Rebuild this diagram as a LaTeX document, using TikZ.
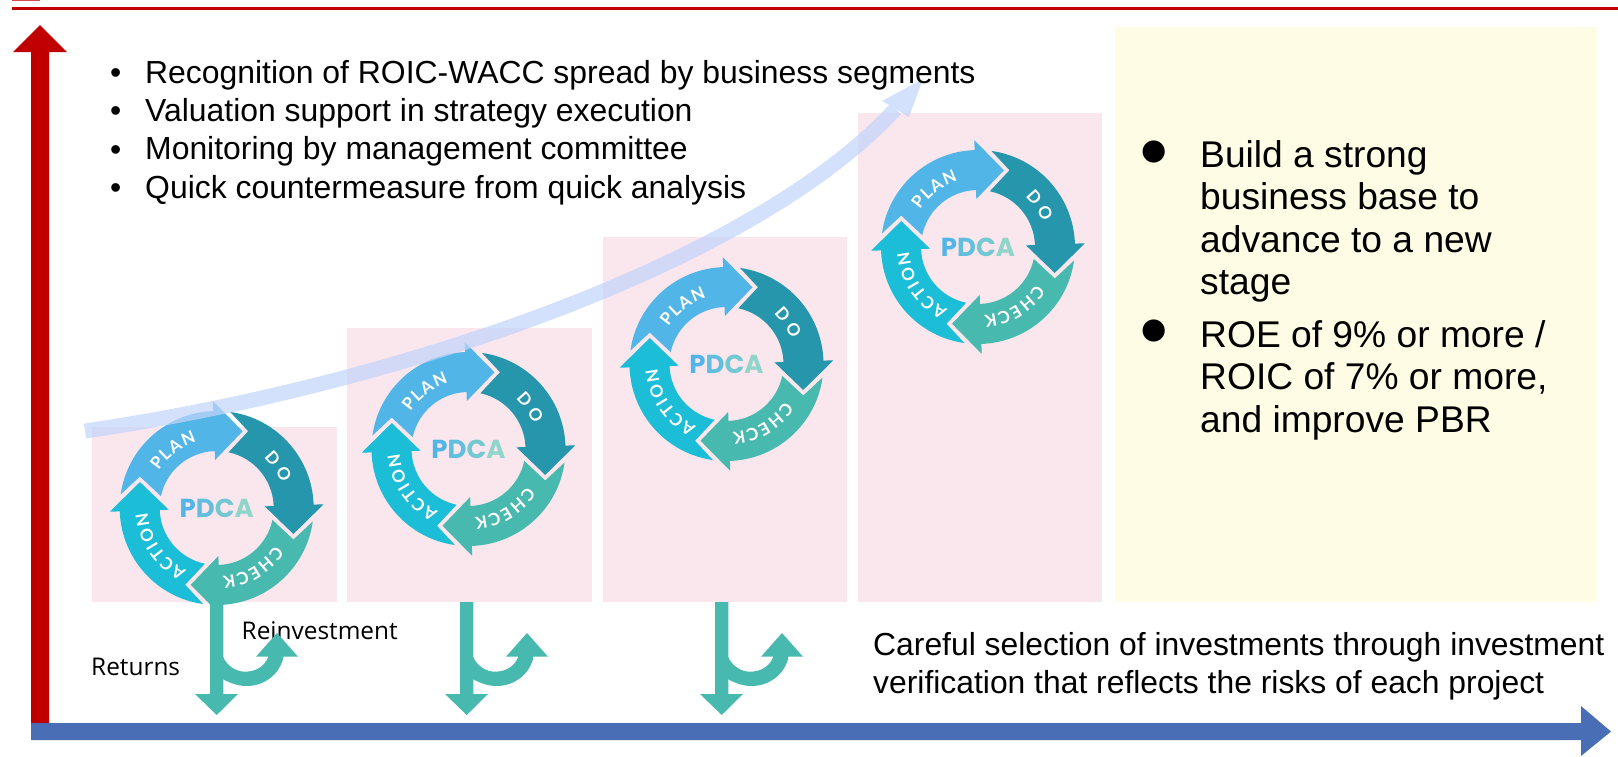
\documentclass[tikz,border=0pt]{standalone}
\usepackage{fontspec}
\setmainfont{Liberation Sans}
\newfontfamily\ringfont{Lato}
\newfontfamily\pdcafont{Poppins}
\newfontfamily\uifont{Open Sans}
\newfontfamily\dotfont{DejaVu Sans}
\usetikzlibrary{decorations.text}
\definecolor{redax}{HTML}{C00000}
\definecolor{blueax}{HTML}{4A6EB5}
\definecolor{pinkbox}{HTML}{FAE6ED}
\definecolor{yellowbox}{HTML}{FFFCE5}
\definecolor{cplan}{HTML}{52B5E8}
\definecolor{cdo}{HTML}{2596AC}
\definecolor{ccheck}{HTML}{48B9AE}
\definecolor{caction}{HTML}{1BBED6}
\definecolor{curvearrow}{HTML}{C3D5FB}
\tikzset{
  pinkrect/.style={fill=pinkbox,draw=none},
  txt/.style={inner sep=0pt,anchor=base west,text=black},
  toplist/.style={txt,font=\fontsize{31.9}{38.4}\selectfont},
  sidelist/.style={txt,font=\fontsize{37.2}{42.6}\selectfont},
  bottomlist/.style={txt,font=\fontsize{31.85}{38.4}\selectfont},
  uilabel/.style={inner sep=0pt,anchor=base west,font=\uifont\fontsize{24.4}{28}\selectfont},
  bigdot/.style={inner sep=0pt,font=\dotfont\fontsize{29}{30}\selectfont},
}
\newcommand{\blocktext}[1]{\begin{tabular}[t]{@{}l@{}}#1\end{tabular}}
\newcommand{\ringseg}[2]{%
  \fill[#2,rotate=#1] (172:97) -- (157.7:83) -- (168:57)
    arc[start angle=168,end angle=92,radius=57] -- (92:48) -- (71.3:81) -- (92:107) -- (92:97)
    arc[start angle=92,end angle=172,radius=97] -- cycle;}
\newcommand{\ringword}[3]{%
  \path[decorate,decoration={text along path,text align={fit to path},
    text={|\ringfont\bfseries\fontsize{17}{18}\selectfont\color{white}|#1}}]
    (#2:69) arc[start angle=#2,end angle=#3,radius=69];}
\newcommand{\pdcaring}[3]{%
  \begin{scope}[shift={(#2,#3)},y=1pt]
    \ringseg{0}{cplan}
    \ringseg{-90}{cdo}
    \ringseg{180}{ccheck}
    \ringseg{90}{caction}
    \ringword{PLAN}{147}{107}
    \ringword{DO}{47}{21}
    \ringword{CHECK}{-33}{-85}
    \ringword{ACTION}{-116}{-176}
    \node[inner sep=0pt] (pdca#1) at (0,0) {\pdcafont\bfseries\fontsize{26}{28}\selectfont
      \textcolor{cplan}{P}\textcolor[HTML]{62BEDE}{D}\textcolor[HTML]{74C8D2}{C}\textcolor[HTML]{90D5CA}{A}};
  \end{scope}}
\newcommand{\splitarrow}[1]{%
  \begin{scope}[shift={(#1,0)}]
    \fill[ccheck] (210,602) -- (223.3,602) -- (223.3,694) -- (238,694) -- (216.7,715)
      -- (195,694) -- (210,694) -- cycle;
    \fill[ccheck] (223,656.7) .. controls (227,666) and (236,671.7) .. (245,671.7)
      .. controls (256,671.7) and (265,666) .. (268.3,656.7)
      -- (256,656.7) -- (277,633) -- (298,656.7) -- (283.3,656.7) -- (283,659.3)
      .. controls (278,676) and (263,686) .. (246.7,686)
      .. controls (238,686) and (230,683) .. (223,679.3) -- cycle;
  \end{scope}}
\begin{document}
\begin{tikzpicture}[x=1pt,y=-1pt]
\useasboundingbox (0,0) rectangle (1618,756);
% top rule
\fill[fill=red!75!black!70!white] (12,0) rectangle (40,1.2);
\fill[redax] (12,7.2) rectangle (1618,9.6);
% boxes
\fill[pinkrect] (92,427) rectangle (337,602);
\fill[pinkrect] (347,328) rectangle (592,602);
\fill[pinkrect] (602.5,237) rectangle (847,602);
\fill[pinkrect] (857.5,112.7) rectangle (1102,602);
\fill[yellowbox] (1114.6,27) rectangle (1597,602);
% labels beneath the arrows
\node[uilabel] (returns) at (91,675) {Returns};
\node[uilabel] (reinvest) at (241.5,639) {Reinvestment};
% rings
\pdcaring{a}{216.7}{508}
\pdcaring{b}{468.5}{449}
\pdcaring{c}{726.5}{364}
\pdcaring{d}{978}{247}
% split arrows
\splitarrow{0}
\splitarrow{250}
\splitarrow{505}
% growth arrow
\begin{scope}[opacity=.72,transparency group]
  \draw[curvearrow,line width=15pt] (85,431) .. controls (400,385) and (755,262) .. (895.5,109);
  \fill[curvearrow] (882,101) -- (923,79) -- (909,117) -- cycle;
\end{scope}
% axes
\fill[redax] (31,728) -- (31,52) -- (13,52) -- (40,25) -- (67,52) -- (49,52) -- (49,728) -- cycle;
\fill[blueax] (31,723) -- (1581,723) -- (1581,706) -- (1611,731.5) -- (1581,756) -- (1581,740) -- (31,740) -- cycle;
% top list
\node[toplist] (bul1) at (110,83) {•};
\node[toplist] (bul2) at (110,121.5) {•};
\node[toplist] (bul3) at (110,160) {•};
\node[toplist] (bul4) at (110,198) {•};
\node[toplist] (list) at (145,83) {\blocktext{Recognition of ROIC-WACC spread by business segments\\
  Valuation support in strategy execution\\
  Monitoring by management committee\\
  Quick countermeasure from quick analysis}};
% right list
\node[bigdot] (dot1) at (1154,152) {●};
\node[bigdot] (dot2) at (1154,331) {●};
\node[sidelist] (goal1) at (1200,167) {\blocktext{Build a strong\\business base to\\advance to a new\\stage}};
\node[sidelist] (goal2) at (1200,347) {\blocktext{ROE of 9\% or more /\\ROIC of 7\% or more,\\and improve PBR}};
% bottom note
\node[bottomlist] (note) at (873,655) {\blocktext{Careful selection of investments through investment\\verification that reflects the risks of each project}};
\end{tikzpicture}
\end{document}
